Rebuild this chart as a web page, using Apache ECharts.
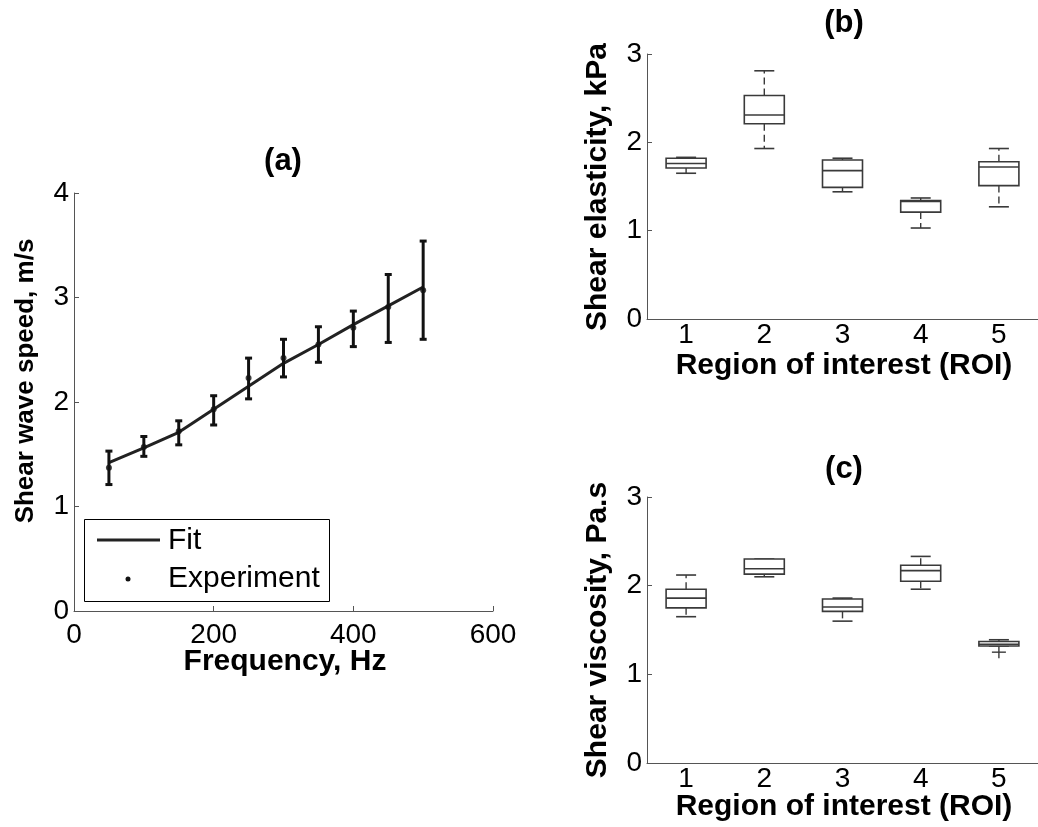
<!DOCTYPE html>
<html>
<head>
<meta charset="utf-8">
<script src="https://cdn.jsdelivr.net/npm/echarts@6/dist/echarts.min.js"></script>
<style>
html,body{margin:0;padding:0;background:#fff;}
#chart{width:1038px;height:827px;}
</style>
</head>
<body>
<div id="chart"></div>
<script>
// ---------- data ----------
const freq = [50, 100, 150, 200, 250, 300, 350, 400, 450, 500];
const speedMean = [1.37, 1.57, 1.72, 1.93, 2.23, 2.42, 2.55, 2.71, 2.91, 3.07];
const speedLow  = [1.21, 1.48, 1.59, 1.78, 2.03, 2.24, 2.38, 2.53, 2.57, 2.60];
const speedHigh = [1.53, 1.67, 1.82, 2.06, 2.42, 2.60, 2.72, 2.87, 3.22, 3.54];
const fitSpeed  = [1.42, 1.56, 1.71, 1.93, 2.15, 2.37, 2.55, 2.74, 2.92, 3.10];

const roi = ['1', '2', '3', '4', '5'];
// [min, q1, median, q3, max]
const elasticity = [
  [1.65, 1.71, 1.76, 1.82, 1.83],
  [1.93, 2.21, 2.31, 2.53, 2.81],
  [1.44, 1.49, 1.68, 1.80, 1.82],
  [1.03, 1.21, 1.33, 1.34, 1.37],
  [1.27, 1.51, 1.72, 1.78, 1.93]
];
const viscosity = [
  [1.65, 1.75, 1.86, 1.96, 2.12],
  [2.10, 2.13, 2.19, 2.30, 2.30],
  [1.60, 1.71, 1.76, 1.85, 1.86],
  [1.96, 2.05, 2.17, 2.23, 2.33],
  [1.32, 1.32, 1.34, 1.37, 1.39]
];
const viscosityOutliers = [[4, 1.25]];

const speedTicks = [0, 1, 2, 3, 4];
const freqTicks = [0, 200, 400, 600];

// ---------- styling ----------
const FONT = "'Liberation Sans', Arial, Helvetica, sans-serif";
const AXIS_COLOR = '#555';
const BOX_COLOR = '#3a3a3a';

function valueAxisCommon(extra) {
  return Object.assign({
    type: 'value',
    axisLine: { show: true, lineStyle: { color: AXIS_COLOR, width: 1 } },
    axisTick: { show: true, inside: true, length: 5, lineStyle: { color: AXIS_COLOR } },
    splitLine: { show: false },
    axisLabel: { color: '#000', fontSize: 28, fontFamily: FONT, margin: 5 }
  }, extra);
}

function boxRender(params, api) {
  const i = api.value(0);
  const vmin = api.value(1), q1 = api.value(2), med = api.value(3), q3 = api.value(4), vmax = api.value(5);
  const pMin = api.coord([i, vmin]);
  const pQ1 = api.coord([i, q1]);
  const pMed = api.coord([i, med]);
  const pQ3 = api.coord([i, q3]);
  const pMax = api.coord([i, vmax]);
  const cx = pMed[0];
  const hw = 20, cw = 10;
  const solid = { stroke: BOX_COLOR, lineWidth: 1.6, fill: null };
  const dashed = { stroke: BOX_COLOR, lineWidth: 1.4, lineDash: [7, 4], fill: null };
  return {
    type: 'group',
    children: [
      { type: 'line', shape: { x1: cx, y1: pQ3[1], x2: cx, y2: pMax[1] }, style: dashed },
      { type: 'line', shape: { x1: cx, y1: pQ1[1], x2: cx, y2: pMin[1] }, style: dashed },
      { type: 'line', shape: { x1: cx - cw, y1: pMax[1], x2: cx + cw, y2: pMax[1] }, style: solid },
      { type: 'line', shape: { x1: cx - cw, y1: pMin[1], x2: cx + cw, y2: pMin[1] }, style: solid },
      { type: 'rect', shape: { x: cx - hw, y: pQ3[1], width: 2 * hw, height: pQ1[1] - pQ3[1] }, style: { stroke: BOX_COLOR, lineWidth: 1.6, fill: '#fff' } },
      { type: 'line', shape: { x1: cx - hw, y1: pMed[1], x2: cx + hw, y2: pMed[1] }, style: solid }
    ]
  };
}

function plusRender(params, api) {
  const p = api.coord([api.value(0), api.value(1)]);
  const s = { stroke: BOX_COLOR, lineWidth: 1.4 };
  return {
    type: 'group',
    children: [
      { type: 'line', shape: { x1: p[0] - 7, y1: p[1], x2: p[0] + 7, y2: p[1] }, style: s },
      { type: 'line', shape: { x1: p[0], y1: p[1] - 6, x2: p[0], y2: p[1] + 6 }, style: s }
    ]
  };
}

function errRender(params, api) {
  const x = api.value(0);
  const lo = api.coord([x, api.value(1)]);
  const hi = api.coord([x, api.value(2)]);
  const w = 3.5;
  const st = { stroke: '#111', lineWidth: 3 };
  return {
    type: 'group',
    children: [
      { type: 'line', shape: { x1: lo[0], y1: lo[1], x2: hi[0], y2: hi[1] }, style: st },
      { type: 'line', shape: { x1: lo[0] - w, y1: lo[1], x2: lo[0] + w, y2: lo[1] }, style: st },
      { type: 'line', shape: { x1: hi[0] - w, y1: hi[1], x2: hi[0] + w, y2: hi[1] }, style: st }
    ]
  };
}

function txt(x, y, text, size, bold, rot) {
  return {
    type: 'text', x: x, y: y, rotation: rot || 0,
    style: {
      text: text, fontSize: size, fontWeight: bold ? 'bold' : 'normal', fontFamily: FONT,
      fill: '#000', align: 'center', verticalAlign: 'middle'
    }
  };
}

const chart = echarts.init(document.getElementById('chart'), null, { renderer: 'canvas' });

const option = {
  backgroundColor: '#fff',
  animation: false,
  grid: [
    { left: 74, top: 193, width: 419, height: 418 },
    { left: 647, top: 54, width: 395, height: 265 },
    { left: 647, top: 497, width: 395, height: 266 }
  ],
  xAxis: [
    valueAxisCommon({ gridIndex: 0, min: freqTicks[0], max: freqTicks[freqTicks.length - 1], interval: 200,
      axisLabel: { color: '#000', fontSize: 28, fontFamily: FONT, margin: 10 } }),
    { type: 'category', gridIndex: 1, data: roi, boundaryGap: true,
      axisLine: { show: true, lineStyle: { color: AXIS_COLOR } }, axisTick: { show: false },
      axisLabel: { color: '#000', fontSize: 28, fontFamily: FONT, margin: 2 } },
    { type: 'category', gridIndex: 2, data: roi, boundaryGap: true,
      axisLine: { show: true, lineStyle: { color: AXIS_COLOR } }, axisTick: { show: false },
      axisLabel: { color: '#000', fontSize: 28, fontFamily: FONT, margin: 2 } }
  ],
  yAxis: [
    valueAxisCommon({ gridIndex: 0, min: speedTicks[0], max: speedTicks[speedTicks.length - 1], interval: 1 }),
    valueAxisCommon({ gridIndex: 1, min: 0, max: 3, interval: 1 }),
    valueAxisCommon({ gridIndex: 2, min: 0, max: 3, interval: 1 })
  ],
  series: [
    {
      name: 'Fit', type: 'line', xAxisIndex: 0, yAxisIndex: 0,
      data: freq.map((f, i) => [f, fitSpeed[i]]),
      symbol: 'none', lineStyle: { color: '#222', width: 3 }, z: 2
    },
    {
      name: 'ErrorBars', type: 'custom', xAxisIndex: 0, yAxisIndex: 0,
      data: freq.map((f, i) => [f, speedLow[i], speedHigh[i]]),
      encode: { x: 0, y: [1, 2] }, renderItem: errRender, z: 3
    },
    {
      name: 'Experiment', type: 'scatter', xAxisIndex: 0, yAxisIndex: 0,
      data: freq.map((f, i) => [f, speedMean[i]]),
      symbol: 'circle', symbolSize: 6, itemStyle: { color: '#111' }, z: 4
    },
    {
      name: 'Elasticity', type: 'custom', xAxisIndex: 1, yAxisIndex: 1,
      data: elasticity.map((b, i) => [i].concat(b)),
      encode: { x: 0, y: [1, 2, 3, 4, 5] }, renderItem: boxRender
    },
    {
      name: 'Viscosity', type: 'custom', xAxisIndex: 2, yAxisIndex: 2,
      data: viscosity.map((b, i) => [i].concat(b)),
      encode: { x: 0, y: [1, 2, 3, 4, 5] }, renderItem: boxRender
    },
    {
      name: 'ViscosityOutliers', type: 'custom', xAxisIndex: 2, yAxisIndex: 2,
      data: viscosityOutliers,
      encode: { x: 0, y: 1 }, renderItem: plusRender
    }
  ],
  graphic: [
    txt(283, 161, '(a)', 31, true),
    txt(285, 662, 'Frequency, Hz', 30, true),
    txt(26, 381, 'Shear wave speed, m/s', 26, true, Math.PI / 2),
    txt(844, 23, '(b)', 31, true),
    txt(598, 187, 'Shear elasticity, kPa', 30, true, Math.PI / 2),
    txt(844, 366, 'Region of interest (ROI)', 30, true),
    txt(844, 469, '(c)', 31, true),
    txt(598, 630, 'Shear viscosity, Pa.s', 30, true, Math.PI / 2),
    txt(844, 807, 'Region of interest (ROI)', 30, true),
    // legend box
    { type: 'rect', shape: { x: 84.5, y: 519.5, width: 245, height: 82 }, style: { stroke: '#000', lineWidth: 1, fill: '#fff' }, z: 10 },
    { type: 'line', shape: { x1: 97, y1: 540, x2: 160, y2: 540 }, style: { stroke: '#222', lineWidth: 3 }, z: 11 },
    { type: 'circle', shape: { cx: 128, cy: 579, r: 2.5 }, style: { fill: '#111' }, z: 11 },
    { type: 'text', x: 168, y: 541, z: 11, style: { text: 'Fit', fontSize: 30, fontFamily: FONT, fill: '#000', align: 'left', verticalAlign: 'middle' } },
    { type: 'text', x: 168, y: 579, z: 11, style: { text: 'Experiment', fontSize: 30, fontFamily: FONT, fill: '#000', align: 'left', verticalAlign: 'middle' } }
  ]
};
chart.setOption(option);
</script>
</body>
</html>
